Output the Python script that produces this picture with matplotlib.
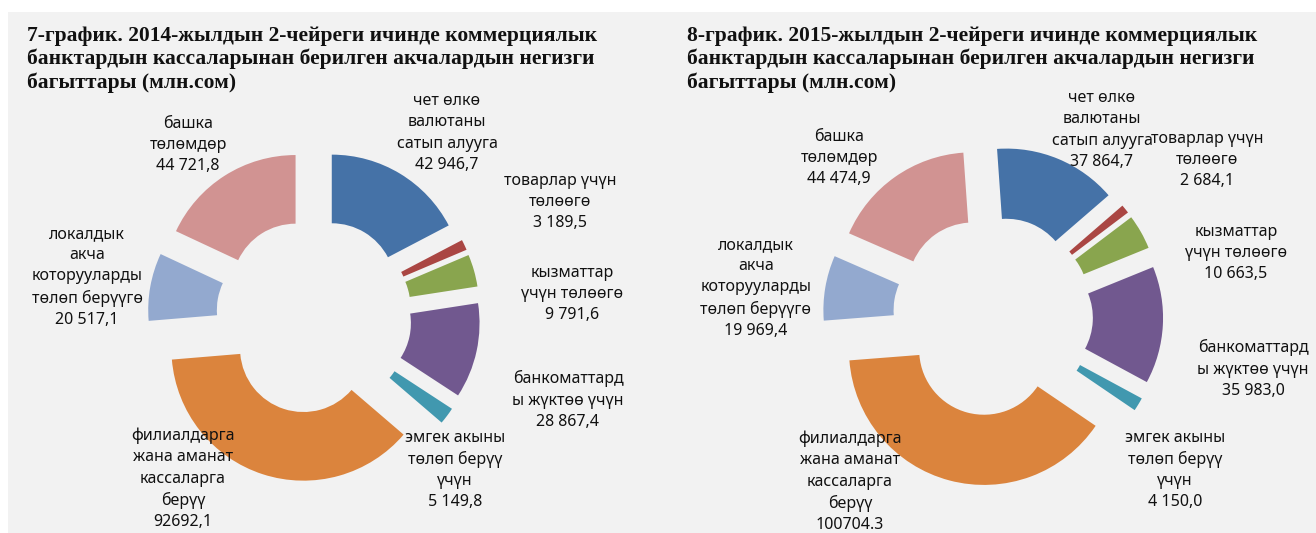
import matplotlib
matplotlib.use("Agg")
import matplotlib.pyplot as plt
import matplotlib.patches as mpatches

# --- data -------------------------------------------------------------
categories = [
    "чет өлкө\nвалютаны\nсатып алууга",
    "товарлар үчүн\nтөлөөгө",
    "кызматтар\nүчүн төлөөгө",
    "банкоматтард\nы жүктөө үчүн",
    "эмгек акыны\nтөлөп берүү\nүчүн",
    "филиалдарга\nжана аманат\nкассаларга\nберүү",
    "локалдык\nакча\nкоторууларды\nтөлөп берүүгө",
    "башка\nтөлөмдөр",
]
values_2014 = [42946.7, 3189.5, 9791.6, 28867.4, 5149.8, 92692.1, 20517.1, 44721.8]
values_2015 = [37864.7, 2684.1, 10663.5, 35983.0, 4150.0, 100704.3, 19969.4, 44474.9]
value_labels_2014 = ["42 946,7", "3 189,5", "9 791,6", "28 867,4", "5 149,8", "92692,1", "20 517,1", "44 721,8"]
value_labels_2015 = ["37 864,7", "2 684,1", "10 663,5", "35 983,0", "4 150,0", "100704.3", "19 969,4", "44 474,9"]
titles = [
    "7-график. 2014-жылдын 2-чейреги ичинде коммерциялык\nбанктардын кассаларынан берилген акчалардын негизги\nбагыттары (млн.сом)",
    "8-график. 2015-жылдын 2-чейреги ичинде коммерциялык\nбанктардын кассаларынан берилген акчалардын негизги\nбагыттары (млн.сом)",
]

colors = ["#4572A7", "#AA4643", "#89A54E", "#71588F", "#4198AF", "#DB843D", "#93A9CF", "#D19392"]

# --- layout (pixel coordinates, y measured from top) --------------------
W, H = 1316, 533
LABEL_FONT = ["Noto Sans", "DejaVu Sans"]

# left chart
pie_left = dict(cx=314, cy=316, r=132, start=90)
label_pos_left = [(447, 133), (560, 202), (572, 294), (568, 400),
                  (455, 470), (183, 479), (87, 277), (188, 145)]
# right chart
pie_right = dict(cx=993, cy=316, r=135, start=94)
label_pos_right = [(1102, 130), (1207, 160), (1236, 253), (1253, 369),
                   (1175, 470), (850, 482), (756, 288), (839, 158)]


def py(y):
    # convert top-based pixel y to axes y
    return H - y


def draw_donut(ax, vals, geom):
    ring = geom["r"] * 0.52
    explode = [geom["r"] * 0.26] * len(vals)
    ax.pie(vals, colors=colors, startangle=geom["start"], counterclock=False,
           radius=geom["r"], center=(geom["cx"], py(geom["cy"])),
           explode=explode, frame=True,
           wedgeprops=dict(width=ring, linewidth=0))


def draw_labels(ax, names, vlabels, positions):
    for name, vl, (x, y) in zip(names, vlabels, positions):
        ax.text(x, py(y), name + "\n" + vl, ha="center", va="center",
                fontsize=11.5, family=LABEL_FONT, color="#111111",
                linespacing=1.42, zorder=5)


fig = plt.figure(figsize=(W / 100, H / 100), dpi=100)
fig.patch.set_facecolor("white")
ax = fig.add_axes([0, 0, 1, 1])

# grey panel
ax.add_patch(mpatches.Rectangle((8, 0), W - 8, H - 12, facecolor="#f2f2f2",
                                edgecolor="none", zorder=0))

draw_donut(ax, values_2014, pie_left)
draw_donut(ax, values_2015, pie_right)
draw_labels(ax, categories, value_labels_2014, label_pos_left)
draw_labels(ax, categories, value_labels_2015, label_pos_right)

# titles
for t, x in zip(titles, [27, 687]):
    ax.text(x, py(26), t, ha="left", va="top", fontsize=15.5, fontweight="bold",
            family=["Liberation Serif", "DejaVu Serif"], color="#111111",
            linespacing=1.18)

ax.set_xlim(0, W)
ax.set_ylim(0, H)
ax.set_aspect("auto")
ax.axis("off")

fig.savefig("out.png", dpi=100, facecolor="white")
